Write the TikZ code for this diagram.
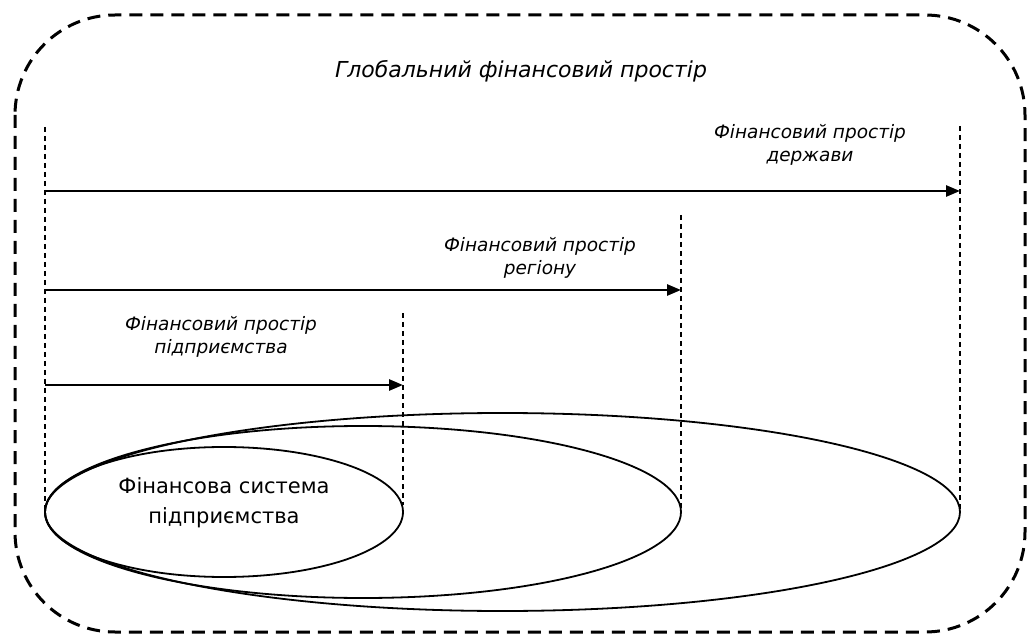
\documentclass[tikz,border=0pt]{standalone}
\usepackage{fontspec}
\setmainfont{DejaVu Sans}
\usetikzlibrary{shapes.geometric,arrows.meta}
\begin{document}
\begin{tikzpicture}[x=1pt,y=-1pt,
  guide/.style={draw, line width=1.3pt, dash pattern=on 5pt off 4pt},
  span/.style={draw, line width=2.6pt, -{Triangle[length=14pt,width=11pt]}},
  ring/.style={draw, ellipse, line width=1.8pt, inner sep=0pt},
  lab/.style={font=\fontsize{18.5}{23}\selectfont\itshape, align=center, inner sep=0pt},
  outer/.style={draw, line width=3pt, dash pattern=on 13pt off 8pt, rounded corners=100pt},
]
\useasboundingbox (0,0) rectangle (1031,644);
\draw[outer] (15,15) rectangle (1025,632);

% guides
\coordinate (g0t) at (45,127);  \coordinate (g0b) at (45,512);
\coordinate (g1t) at (403,313); \coordinate (g1b) at (403,505);
\coordinate (g2t) at (681,215); \coordinate (g2b) at (681,512);
\coordinate (g3t) at (960,126); \coordinate (g3b) at (960,512);
\draw[guide] (g0t) -- (g0b);
\draw[guide] (g1t) -- (g1b);
\draw[guide] (g2t) -- (g2b);
\draw[guide] (g3t) -- (g3b);

% arrows
\coordinate (s3) at (45,191); \coordinate (e3) at (960,191);
\coordinate (s2) at (45,290); \coordinate (e2) at (681,290);
\coordinate (s1) at (45,385); \coordinate (e1) at (403,385);
\draw[span] (s3) -- (e3);
\draw[span] (s2) -- (e2);
\draw[span] (s1) -- (e1);

% ellipses
\node[ring, minimum width=915pt, minimum height=198pt] (big) at (502.5,512) {};
\node[ring, minimum width=636pt, minimum height=172pt] (mid) at (363,512) {};
\node[ring, minimum width=358pt, minimum height=130pt] (small) at (224,512) {};
\node[align=center, inner sep=0pt, font=\fontsize{21}{30}\selectfont] (smalltext) at (224,503) {Фінансова система\\підприємства};

% labels
\node[font=\fontsize{22}{24}\selectfont\itshape, inner sep=0pt] (title) at (521,71) {Глобальний фінансовий простір};
\node[lab] (lstate) at (810,145) {Фінансовий простір\\держави};
\node[lab] (lreg) at (540,258) {Фінансовий простір\\регіону};
\node[lab] (lent) at (221,337) {Фінансовий простір\\підприємства};
\end{tikzpicture}
\end{document}
